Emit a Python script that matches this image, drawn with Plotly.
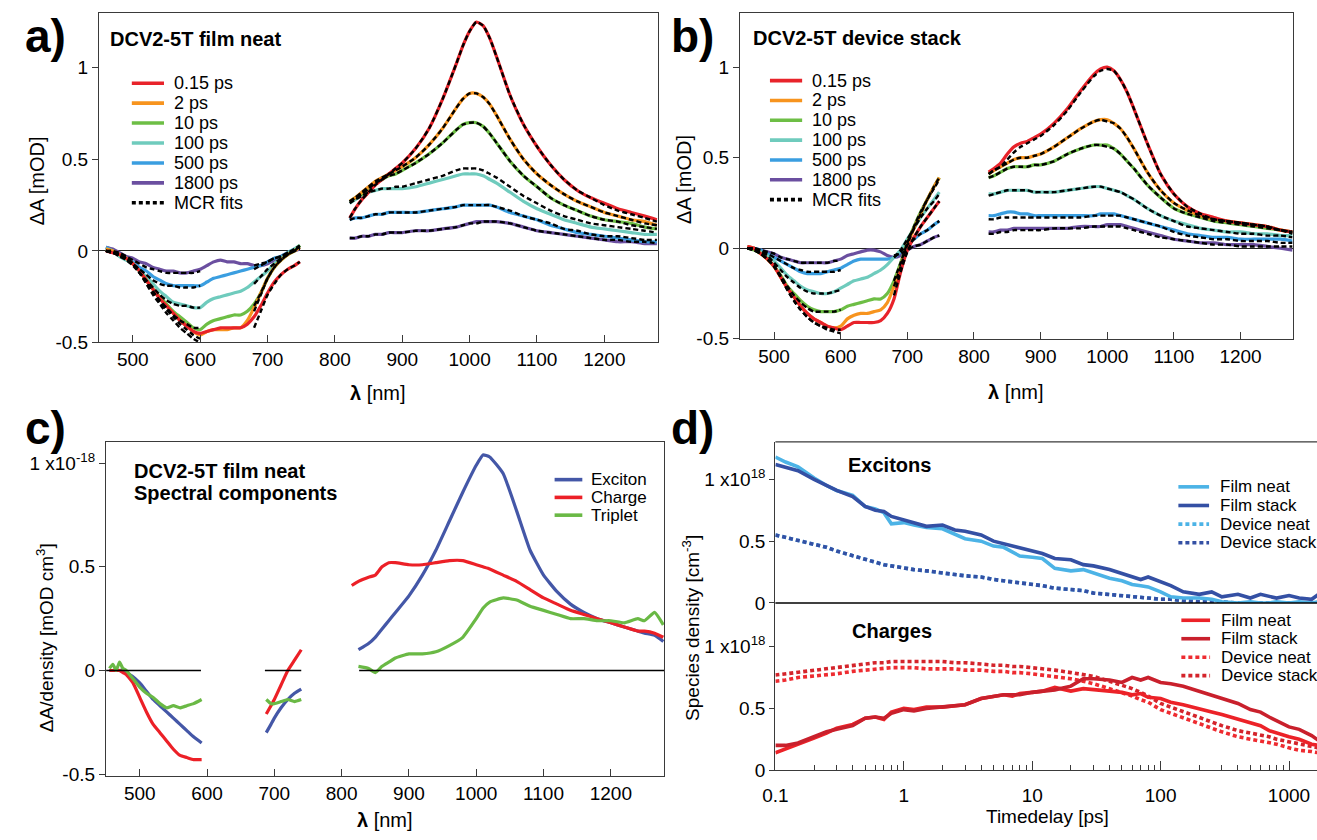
import plotly.graph_objects as go

W, H = 1317, 840
FONT = "Liberation Sans, Arial, sans-serif"

# ---------------- wavelength grids (nm) ----------------
WL_VIS = [460, 470, 480, 490, 500, 510, 520, 530, 540, 550, 560, 570, 580, 590, 600,
          610, 620, 630, 640, 650, 660, 670, 680, 690, 700, 710, 720, 730, 740, 748]
WL_NIR = [822, 830, 840, 850, 860, 870, 880, 890, 900, 920, 940, 960, 980, 990, 1000,
          1010, 1020, 1030, 1040, 1060, 1080, 1100, 1120, 1140, 1160, 1180, 1200, 1220,
          1240, 1260, 1278]

DELAYS = ["0.15 ps", "2 ps", "10 ps", "100 ps", "500 ps", "1800 ps"]
DELAY_COLORS = ["#e8232a", "#f7941e", "#6dbe45", "#6fcbbd", "#3a9ee0", "#6b4fa0"]
N = None

# ---------------- a) film neat : visible ----------------
A_VIS_015 = [0.00, -0.01, -0.02, -0.04, -0.07, -0.11, -0.16, -0.21, -0.26, -0.30, -0.34, -0.38, -0.41, -0.44, -0.45,
             -0.44, -0.43, -0.42, -0.42, -0.42, -0.42, -0.40, -0.36, -0.30, -0.23, -0.17, -0.13, -0.10, -0.08, -0.06]
A_VIS_2 = [0.01, 0.00, -0.02, -0.04, -0.07, -0.11, -0.16, -0.21, -0.26, -0.30, -0.34, -0.38, -0.41, -0.44, -0.46,
           -0.44, -0.43, -0.43, -0.43, -0.42, -0.42, -0.38, -0.31, -0.23, -0.15, -0.09, -0.05, -0.02, 0.00, 0.02]
A_VIS_10 = [0.01, 0.00, -0.02, -0.04, -0.07, -0.11, -0.16, -0.21, -0.25, -0.29, -0.33, -0.36, -0.39, -0.42, -0.43,
            -0.40, -0.38, -0.37, -0.36, -0.35, -0.35, -0.33, -0.29, -0.23, -0.15, -0.09, -0.05, -0.02, 0.00, 0.03]
A_VIS_100 = [0.01, 0.00, -0.03, -0.05, -0.07, -0.11, -0.14, -0.18, -0.22, -0.25, -0.28, -0.29, -0.30, -0.31, -0.31,
             -0.28, -0.26, -0.25, -0.24, -0.23, -0.22, -0.20, -0.17, -0.14, -0.11, -0.07, -0.04, -0.01, 0.01, 0.03]
A_VIS_500 = [0.02, 0.00, -0.02, -0.04, -0.06, -0.09, -0.11, -0.14, -0.16, -0.18, -0.19, -0.19, -0.19, -0.19, -0.19,
             -0.17, -0.15, -0.14, -0.13, -0.12, -0.11, -0.10, -0.09, -0.08, -0.06, -0.04, -0.03, -0.01, 0.01, 0.02]
A_VIS_1800 = [0.02, 0.01, -0.01, -0.03, -0.04, -0.06, -0.07, -0.09, -0.10, -0.11, -0.11, -0.12, -0.12, -0.11, -0.10,
              -0.08, -0.06, -0.05, -0.06, -0.06, -0.07, -0.07, -0.08, -0.08, -0.07, -0.05, -0.03, -0.01, 0.00, 0.01]

A_VIS_FIT_015 = [0.00, -0.01, -0.02, -0.04, -0.07, -0.12, -0.18, -0.24, -0.29, -0.34, -0.38, -0.42, -0.45, -0.48, -0.50,
                 N, N, N, N, N, N, N, -0.42, -0.33, -0.24, -0.18, -0.13, -0.10, -0.08, -0.06]
A_VIS_FIT_2 = [0.00, -0.01, -0.02, -0.04, -0.07, -0.12, -0.17, -0.23, -0.28, -0.32, -0.36, -0.40, -0.43, -0.46, -0.48,
               N, N, N, N, N, N, N, -0.33, -0.24, -0.15, -0.09, -0.05, -0.02, 0.00, 0.02]
A_VIS_FIT_10 = [0.00, -0.01, -0.02, -0.04, -0.07, -0.12, -0.17, -0.22, -0.27, -0.31, -0.35, -0.38, -0.40, -0.42, -0.42,
                N, N, N, N, N, N, N, -0.30, -0.23, -0.15, -0.09, -0.05, -0.02, 0.00, 0.03]
A_VIS_FIT_100 = [0.00, -0.01, -0.03, -0.05, -0.08, -0.12, -0.16, -0.20, -0.24, -0.27, -0.29, -0.30, -0.30, -0.31, -0.31,
                 N, N, N, N, N, N, N, -0.18, -0.14, -0.10, -0.07, -0.04, -0.02, 0.01, 0.03]
A_VIS_FIT_500 = [0.00, -0.01, -0.02, -0.04, -0.07, -0.10, -0.13, -0.16, -0.18, -0.19, -0.19, -0.20, -0.20, -0.20, -0.19,
                 N, N, N, N, N, N, N, -0.10, -0.08, -0.06, -0.04, -0.03, -0.01, 0.01, 0.02]
A_VIS_FIT_1800 = [0.00, 0.00, -0.01, -0.03, -0.05, -0.07, -0.09, -0.10, -0.11, -0.12, -0.12, -0.12, -0.12, -0.12, -0.11,
                  N, N, N, N, N, N, N, -0.08, -0.07, -0.06, -0.04, -0.03, -0.01, 0.00, 0.01]

# ---------------- a) film neat : near infrared ----------------
A_NIR_015 = [0.18, 0.23, 0.28, 0.32, 0.36, 0.39, 0.42, 0.45, 0.48, 0.56, 0.67, 0.83, 1.02, 1.12, 1.20, 1.25, 1.23,
             1.16, 1.06, 0.85, 0.69, 0.57, 0.47, 0.39, 0.33, 0.29, 0.26, 0.23, 0.21, 0.19, 0.17]
A_NIR_2 = [0.27, 0.29, 0.32, 0.35, 0.38, 0.40, 0.42, 0.44, 0.46, 0.51, 0.58, 0.67, 0.78, 0.83, 0.86, 0.86, 0.84,
           0.80, 0.74, 0.61, 0.50, 0.42, 0.36, 0.31, 0.27, 0.24, 0.21, 0.19, 0.17, 0.16, 0.14]
A_NIR_10 = [0.27, 0.29, 0.31, 0.34, 0.37, 0.39, 0.41, 0.42, 0.44, 0.48, 0.53, 0.59, 0.66, 0.69, 0.70, 0.70, 0.68,
            0.64, 0.59, 0.49, 0.41, 0.35, 0.29, 0.25, 0.22, 0.19, 0.17, 0.16, 0.15, 0.13, 0.12]
A_NIR_100 = [0.26, 0.28, 0.30, 0.32, 0.33, 0.34, 0.34, 0.34, 0.34, 0.35, 0.37, 0.39, 0.41, 0.42, 0.42, 0.42, 0.41,
             0.39, 0.37, 0.32, 0.27, 0.23, 0.20, 0.17, 0.15, 0.13, 0.12, 0.11, 0.10, 0.09, 0.09]
A_NIR_500 = [0.17, 0.18, 0.18, 0.19, 0.20, 0.20, 0.21, 0.21, 0.21, 0.21, 0.22, 0.23, 0.24, 0.25, 0.25, 0.25, 0.25,
             0.25, 0.24, 0.21, 0.19, 0.17, 0.14, 0.12, 0.10, 0.09, 0.08, 0.07, 0.06, 0.05, 0.05]
A_NIR_1800 = [0.07, 0.07, 0.08, 0.08, 0.09, 0.09, 0.10, 0.10, 0.10, 0.11, 0.11, 0.12, 0.13, 0.14, 0.15, 0.16, 0.16,
              0.16, 0.16, 0.15, 0.13, 0.11, 0.10, 0.09, 0.08, 0.07, 0.06, 0.05, 0.05, 0.04, 0.04]

A_NIR_FIT_015 = [0.18, 0.23, 0.28, 0.32, 0.36, 0.39, 0.42, 0.45, 0.48, 0.56, 0.67, 0.83, 1.02, 1.12, 1.20, 1.25, 1.23,
                 1.16, 1.06, 0.85, 0.69, 0.57, 0.47, 0.39, 0.33, 0.29, 0.25, 0.22, 0.20, 0.18, 0.16]
A_NIR_FIT_2 = [0.27, 0.29, 0.32, 0.35, 0.38, 0.40, 0.42, 0.44, 0.46, 0.51, 0.58, 0.67, 0.78, 0.83, 0.86, 0.86, 0.84,
               0.80, 0.74, 0.61, 0.50, 0.42, 0.36, 0.31, 0.27, 0.24, 0.21, 0.19, 0.17, 0.15, 0.14]
A_NIR_FIT_10 = [0.27, 0.29, 0.31, 0.34, 0.37, 0.39, 0.41, 0.42, 0.44, 0.48, 0.53, 0.59, 0.66, 0.69, 0.70, 0.70, 0.68,
                0.64, 0.59, 0.49, 0.41, 0.35, 0.29, 0.25, 0.22, 0.19, 0.17, 0.16, 0.14, 0.13, 0.12]
A_NIR_FIT_100 = [0.26, 0.28, 0.30, 0.32, 0.33, 0.34, 0.34, 0.35, 0.35, 0.37, 0.39, 0.41, 0.44, 0.45, 0.45, 0.45, 0.44,
                 0.42, 0.40, 0.35, 0.30, 0.26, 0.22, 0.19, 0.17, 0.15, 0.14, 0.13, 0.12, 0.11, 0.10]
A_NIR_FIT_500 = [0.17, 0.18, 0.18, 0.19, 0.20, 0.20, 0.21, 0.21, 0.21, 0.21, 0.22, 0.23, 0.24, 0.25, 0.25, 0.25, 0.25,
                 0.25, 0.24, 0.22, 0.19, 0.17, 0.15, 0.12, 0.11, 0.09, 0.08, 0.08, 0.07, 0.06, 0.06]
A_NIR_FIT_1800 = [0.07, 0.07, 0.08, 0.08, 0.09, 0.09, 0.10, 0.10, 0.10, 0.11, 0.11, 0.12, 0.13, 0.14, 0.15, 0.15, 0.16,
                  0.16, 0.16, 0.15, 0.13, 0.11, 0.10, 0.09, 0.08, 0.07, 0.06, 0.06, 0.05, 0.05, 0.04]

# ---------------- b) device stack : visible ----------------
B_VIS_015 = [0.01, 0.00, -0.03, -0.06, -0.10, -0.16, -0.22, -0.27, -0.32, -0.36, -0.39, -0.41, -0.43, -0.44, -0.45,
             -0.43, -0.41, -0.41, -0.41, -0.41, -0.40, -0.36, -0.28, -0.13, -0.01, 0.06, 0.12, 0.17, 0.22, 0.26]
B_VIS_2 = [0.01, 0.00, -0.03, -0.06, -0.10, -0.16, -0.22, -0.27, -0.32, -0.36, -0.39, -0.41, -0.43, -0.44, -0.43,
           -0.39, -0.37, -0.36, -0.36, -0.35, -0.34, -0.30, -0.21, -0.10, 0.02, 0.11, 0.19, 0.27, 0.34, 0.39]
B_VIS_10 = [0.00, -0.01, -0.03, -0.06, -0.10, -0.15, -0.21, -0.25, -0.29, -0.32, -0.34, -0.35, -0.35, -0.35, -0.34,
            -0.32, -0.31, -0.30, -0.29, -0.28, -0.28, -0.25, -0.18, -0.08, 0.03, 0.12, 0.20, 0.27, 0.34, 0.39]
B_VIS_100 = [0.00, 0.00, -0.02, -0.04, -0.07, -0.11, -0.15, -0.18, -0.21, -0.23, -0.24, -0.25, -0.25, -0.24, -0.22,
             -0.20, -0.18, -0.17, -0.16, -0.14, -0.12, -0.09, -0.05, -0.01, 0.05, 0.11, 0.17, 0.22, 0.27, 0.31]
B_VIS_500 = [0.01, 0.00, -0.01, -0.03, -0.05, -0.07, -0.09, -0.11, -0.13, -0.14, -0.14, -0.14, -0.13, -0.12, -0.11,
             -0.09, -0.07, -0.06, -0.06, -0.06, -0.06, -0.06, -0.05, -0.02, 0.02, 0.05, 0.08, 0.10, 0.13, 0.15]
B_VIS_1800 = [0.00, 0.00, -0.01, -0.02, -0.03, -0.05, -0.06, -0.07, -0.08, -0.08, -0.08, -0.08, -0.08, -0.07, -0.06,
              -0.04, -0.03, -0.02, -0.01, -0.01, -0.02, -0.04, -0.05, -0.04, -0.01, 0.01, 0.02, 0.04, 0.06, 0.07]

B_VIS_FIT_015 = [0.00, -0.01, -0.03, -0.06, -0.10, -0.16, -0.23, -0.29, -0.34, -0.38, -0.41, -0.43, -0.45, -0.46, -0.47,
                 N, N, N, N, N, N, N, -0.26, -0.13, -0.02, 0.06, 0.12, 0.17, 0.22, 0.26]
B_VIS_FIT_2 = [0.00, -0.01, -0.03, -0.06, -0.10, -0.16, -0.23, -0.29, -0.34, -0.38, -0.41, -0.43, -0.44, -0.45, -0.45,
               N, N, N, N, N, N, N, -0.21, -0.10, 0.02, 0.11, 0.19, 0.27, 0.34, 0.39]
B_VIS_FIT_10 = [0.00, -0.01, -0.03, -0.06, -0.10, -0.15, -0.21, -0.26, -0.30, -0.33, -0.35, -0.35, -0.35, -0.35, -0.34,
                N, N, N, N, N, N, N, -0.18, -0.08, 0.03, 0.12, 0.20, 0.27, 0.33, 0.38]
B_VIS_FIT_100 = [0.00, 0.00, -0.02, -0.04, -0.08, -0.12, -0.16, -0.19, -0.22, -0.24, -0.25, -0.25, -0.25, -0.24, -0.23,
                 N, N, N, N, N, N, N, -0.05, -0.01, 0.05, 0.11, 0.17, 0.22, 0.26, 0.30]
B_VIS_FIT_500 = [0.00, 0.00, -0.01, -0.03, -0.05, -0.07, -0.09, -0.11, -0.12, -0.13, -0.13, -0.13, -0.13, -0.13, -0.12,
                 N, N, N, N, N, N, N, -0.05, -0.02, 0.02, 0.05, 0.08, 0.10, 0.13, 0.15]
B_VIS_FIT_1800 = [0.00, 0.00, -0.01, -0.02, -0.03, -0.05, -0.06, -0.07, -0.08, -0.08, -0.08, -0.08, -0.08, -0.07, -0.07,
                  N, N, N, N, N, N, N, -0.04, -0.03, -0.01, 0.01, 0.02, 0.04, 0.06, 0.07]

# ---------------- b) device stack : near infrared ----------------
B_NIR_015 = [0.42, 0.44, 0.47, 0.52, 0.56, 0.58, 0.59, 0.61, 0.63, 0.69, 0.77, 0.87, 0.96, 0.99, 1.00, 0.98, 0.93,
             0.86, 0.77, 0.58, 0.41, 0.30, 0.23, 0.19, 0.17, 0.15, 0.14, 0.13, 0.12, 0.10, 0.09]
B_NIR_2 = [0.41, 0.43, 0.45, 0.47, 0.49, 0.50, 0.50, 0.51, 0.52, 0.56, 0.61, 0.66, 0.70, 0.71, 0.71, 0.69, 0.66,
           0.61, 0.55, 0.42, 0.32, 0.25, 0.21, 0.18, 0.16, 0.15, 0.14, 0.13, 0.12, 0.10, 0.09]
B_NIR_10 = [0.39, 0.40, 0.42, 0.44, 0.45, 0.45, 0.45, 0.46, 0.46, 0.48, 0.52, 0.55, 0.57, 0.57, 0.57, 0.55, 0.52,
            0.48, 0.44, 0.35, 0.28, 0.22, 0.19, 0.17, 0.15, 0.14, 0.13, 0.12, 0.11, 0.10, 0.09]
B_NIR_100 = [0.30, 0.30, 0.31, 0.32, 0.32, 0.32, 0.32, 0.31, 0.31, 0.31, 0.32, 0.33, 0.34, 0.34, 0.33, 0.32, 0.31,
             0.29, 0.27, 0.22, 0.18, 0.15, 0.13, 0.11, 0.10, 0.09, 0.09, 0.08, 0.08, 0.07, 0.07]
B_NIR_500 = [0.18, 0.18, 0.19, 0.20, 0.20, 0.19, 0.19, 0.18, 0.18, 0.18, 0.18, 0.18, 0.18, 0.19, 0.19, 0.19, 0.18,
             0.17, 0.16, 0.14, 0.12, 0.10, 0.08, 0.07, 0.06, 0.06, 0.05, 0.05, 0.05, 0.05, 0.04]
B_NIR_1800 = [0.09, 0.09, 0.10, 0.10, 0.11, 0.11, 0.11, 0.11, 0.11, 0.11, 0.11, 0.12, 0.12, 0.12, 0.13, 0.13, 0.13,
              0.12, 0.11, 0.09, 0.07, 0.05, 0.04, 0.03, 0.03, 0.02, 0.02, 0.02, 0.01, 0.00, -0.01]

B_NIR_FIT_015 = [0.41, 0.43, 0.45, 0.49, 0.53, 0.56, 0.58, 0.60, 0.62, 0.68, 0.76, 0.86, 0.95, 0.98, 0.99, 0.98, 0.93,
                 0.86, 0.77, 0.58, 0.41, 0.30, 0.23, 0.19, 0.16, 0.15, 0.14, 0.13, 0.12, 0.10, 0.09]
B_NIR_FIT_2 = [0.41, 0.43, 0.45, 0.47, 0.49, 0.50, 0.50, 0.51, 0.52, 0.56, 0.61, 0.66, 0.70, 0.71, 0.70, 0.69, 0.66,
               0.61, 0.55, 0.42, 0.32, 0.25, 0.21, 0.18, 0.16, 0.15, 0.14, 0.13, 0.12, 0.10, 0.09]
B_NIR_FIT_10 = [0.39, 0.40, 0.42, 0.44, 0.45, 0.45, 0.45, 0.46, 0.46, 0.48, 0.52, 0.55, 0.57, 0.57, 0.56, 0.55, 0.52,
                0.48, 0.44, 0.35, 0.28, 0.22, 0.19, 0.17, 0.15, 0.14, 0.13, 0.12, 0.11, 0.10, 0.08]
B_NIR_FIT_100 = [0.29, 0.30, 0.31, 0.32, 0.32, 0.32, 0.32, 0.31, 0.31, 0.31, 0.32, 0.33, 0.34, 0.34, 0.33, 0.32, 0.31,
                 0.29, 0.27, 0.22, 0.18, 0.15, 0.12, 0.11, 0.10, 0.09, 0.08, 0.08, 0.07, 0.07, 0.06]
B_NIR_FIT_500 = [0.16, 0.16, 0.17, 0.17, 0.17, 0.17, 0.17, 0.17, 0.17, 0.17, 0.17, 0.17, 0.18, 0.18, 0.18, 0.18, 0.18,
                 0.17, 0.16, 0.14, 0.12, 0.09, 0.07, 0.06, 0.05, 0.05, 0.04, 0.04, 0.04, 0.03, 0.03]
B_NIR_FIT_1800 = [0.08, 0.08, 0.09, 0.09, 0.10, 0.10, 0.10, 0.10, 0.10, 0.11, 0.11, 0.11, 0.12, 0.12, 0.12, 0.12, 0.12,
                  0.11, 0.10, 0.08, 0.06, 0.05, 0.04, 0.03, 0.02, 0.02, 0.01, 0.01, 0.01, 0.01, 0.01]

# ---------------- c) spectral components (units of 1e-18 mOD cm^3) ----------------
WL_C1 = [455, 460, 465, 470, 475, 480, 490, 500, 510, 520, 530, 540, 550, 560, 570, 580, 592]
WL_C2 = [688, 695, 700, 710, 720, 730, 740]
WL_C3 = [815, 825, 840, 850, 860, 870, 880, 900, 920, 940, 960, 980, 1000, 1010, 1020, 1040, 1060, 1080,
         1100, 1120, 1140, 1160, 1180, 1200, 1220, 1240, 1250, 1265, 1278]

EXCITON_1 = [0.00, 0.00, 0.00, 0.00, 0.00, -0.01, -0.03, -0.06, -0.10, -0.14, -0.17, -0.20, -0.23, -0.26, -0.29, -0.32, -0.35]
CHARGE_1 = [0.00, 0.00, 0.00, 0.00, -0.01, -0.02, -0.06, -0.13, -0.20, -0.26, -0.30, -0.34, -0.38, -0.41, -0.42, -0.43, -0.43]
TRIPLET_1 = [0.01, 0.03, 0.00, 0.04, 0.01, 0.00, -0.04, -0.08, -0.11, -0.13, -0.16, -0.18, -0.17, -0.18, -0.17, -0.16, -0.14]

EXCITON_2 = [-0.30, -0.26, -0.23, -0.18, -0.14, -0.11, -0.09]
CHARGE_2 = [-0.21, -0.17, -0.14, -0.07, 0.00, 0.05, 0.10]
TRIPLET_2 = [-0.14, -0.16, -0.16, -0.15, -0.14, -0.15, -0.14]

EXCITON_3 = [N, 0.10, 0.13, 0.16, 0.20, 0.24, 0.28, 0.36, 0.46, 0.58, 0.72, 0.86, 0.99, 1.04, 1.03, 0.95, 0.77, 0.58,
             0.46, 0.38, 0.32, 0.28, 0.25, 0.23, 0.21, 0.19, 0.18, 0.17, 0.14]
CHARGE_3 = [0.41, 0.43, 0.45, 0.46, 0.50, 0.52, 0.52, 0.51, 0.51, 0.52, 0.53, 0.53, 0.51, 0.50, 0.49, 0.46, 0.43, 0.39,
            0.35, 0.32, 0.29, 0.27, 0.25, 0.23, 0.21, 0.19, 0.19, 0.18, 0.16]
TRIPLET_3 = [N, 0.02, 0.01, -0.01, 0.02, 0.04, 0.06, 0.08, 0.08, 0.09, 0.12, 0.16, 0.25, 0.30, 0.33, 0.35, 0.34, 0.31,
             0.29, 0.27, 0.25, 0.25, 0.24, 0.24, 0.23, 0.25, 0.24, 0.28, 0.22]

# ---------------- d) species densities (units of 1e18 cm^-3) ----------------
T_PS = [0.1, 0.12, 0.15, 0.2, 0.25, 0.3, 0.4, 0.5, 0.6, 0.7, 0.8, 1, 1.2, 1.5, 2, 2.5, 3, 4, 5, 6, 7, 8, 10, 12,
        15, 20, 25, 30, 40, 50, 60, 70, 80, 100, 120, 150, 200, 250, 300, 400, 500, 600, 700, 800, 1000, 1200,
        1500, 1700]

EXC_FILM_NEAT = [1.18, 1.14, 1.10, 1.01, 0.95, 0.91, 0.87, 0.78, 0.76, 0.73, 0.64, 0.65, 0.63, 0.61, 0.60, 0.56,
                 0.52, 0.50, 0.46, 0.45, 0.41, 0.38, 0.37, 0.36, 0.28, 0.26, 0.27, 0.24, 0.20, 0.18, 0.15, 0.14,
                 0.13, 0.09, 0.05, 0.04, 0.04, 0.03, 0.01, 0.00, 0.01, 0.00, 0.00, 0.01, 0.00, 0.01, 0.00, 0.01]
EXC_FILM_STACK = [1.12, 1.10, 1.07, 1.00, 0.95, 0.91, 0.86, 0.78, 0.75, 0.74, 0.70, 0.67, 0.65, 0.62, 0.63, 0.59,
                  0.58, 0.55, 0.50, 0.48, 0.46, 0.45, 0.42, 0.40, 0.36, 0.35, 0.31, 0.30, 0.27, 0.24, 0.21, 0.19,
                  0.21, 0.17, 0.14, 0.09, 0.07, 0.09, 0.05, 0.07, 0.04, 0.07, 0.05, 0.04, 0.06, 0.04, 0.03, 0.07]
EXC_DEVICE_NEAT = [0.55, 0.53, 0.51, 0.48, 0.45, 0.42, 0.38, 0.35, 0.33, 0.31, 0.30, 0.28, 0.27, 0.26, 0.24, 0.23,
                   0.22, 0.21, 0.19, 0.18, 0.17, 0.16, 0.15, 0.14, 0.12, 0.11, 0.10, 0.08, 0.07, 0.06, 0.05, 0.05,
                   0.04, 0.03, 0.03, 0.02, 0.01, 0.01, 0.00, 0.00, 0.00, 0.00, 0.00, 0.00, 0.00, 0.00, 0.00, 0.00]
EXC_DEVICE_STACK = [0.55, 0.53, 0.51, 0.48, 0.45, 0.42, 0.38, 0.35, 0.33, 0.31, 0.30, 0.28, 0.27, 0.26, 0.24, 0.23,
                    0.22, 0.21, 0.19, 0.18, 0.17, 0.16, 0.15, 0.14, 0.12, 0.11, 0.10, 0.08, 0.07, 0.06, 0.05, 0.05,
                    0.04, 0.03, 0.03, 0.02, 0.01, 0.01, 0.01, 0.00, 0.00, 0.00, 0.00, 0.00, 0.00, 0.00, 0.00, 0.00]

CHG_FILM_NEAT = [0.14, 0.17, 0.21, 0.26, 0.30, 0.34, 0.37, 0.42, 0.43, 0.41, 0.47, 0.50, 0.49, 0.51, 0.51, 0.52,
                 0.53, 0.58, 0.60, 0.61, 0.60, 0.62, 0.63, 0.64, 0.67, 0.64, 0.66, 0.65, 0.64, 0.63, 0.61, 0.62,
                 0.59, 0.58, 0.55, 0.53, 0.50, 0.47, 0.45, 0.41, 0.38, 0.36, 0.32, 0.30, 0.27, 0.25, 0.21, 0.20]
CHG_FILM_STACK = [0.20, 0.20, 0.22, 0.27, 0.31, 0.33, 0.36, 0.42, 0.43, 0.42, 0.46, 0.49, 0.48, 0.50, 0.51, 0.52,
                  0.53, 0.58, 0.60, 0.61, 0.61, 0.61, 0.63, 0.64, 0.65, 0.68, 0.74, 0.74, 0.73, 0.71, 0.75, 0.73,
                  0.75, 0.71, 0.70, 0.68, 0.64, 0.61, 0.58, 0.54, 0.49, 0.47, 0.43, 0.40, 0.35, 0.33, 0.28, 0.24]
CHG_DEVICE_NEAT = [0.72, 0.73, 0.75, 0.76, 0.77, 0.78, 0.80, 0.81, 0.82, 0.82, 0.83, 0.83, 0.83, 0.82, 0.82, 0.82,
                   0.81, 0.81, 0.80, 0.80, 0.79, 0.79, 0.78, 0.77, 0.76, 0.74, 0.72, 0.70, 0.66, 0.63, 0.60, 0.57,
                   0.55, 0.49, 0.46, 0.42, 0.38, 0.34, 0.31, 0.27, 0.25, 0.23, 0.22, 0.21, 0.18, 0.16, 0.15, 0.14]
CHG_DEVICE_STACK = [0.77, 0.78, 0.79, 0.81, 0.82, 0.83, 0.85, 0.86, 0.87, 0.87, 0.88, 0.88, 0.88, 0.88, 0.88, 0.87,
                    0.87, 0.86, 0.85, 0.85, 0.84, 0.84, 0.83, 0.82, 0.81, 0.79, 0.77, 0.76, 0.72, 0.69, 0.66, 0.63,
                    0.60, 0.54, 0.51, 0.47, 0.43, 0.39, 0.36, 0.32, 0.30, 0.28, 0.27, 0.25, 0.23, 0.21, 0.19, 0.18]

# ---------------------------------------------------------------
def fx(p):
    return p / W


def fy(p):
    return 1 - p / H


fig = go.Figure()

A_VIS = [A_VIS_015, A_VIS_2, A_VIS_10, A_VIS_100, A_VIS_500, A_VIS_1800]
A_VIS_FIT = [A_VIS_FIT_015, A_VIS_FIT_2, A_VIS_FIT_10, A_VIS_FIT_100, A_VIS_FIT_500, A_VIS_FIT_1800]
A_NIR = [A_NIR_015, A_NIR_2, A_NIR_10, A_NIR_100, A_NIR_500, A_NIR_1800]
A_NIR_FIT = [A_NIR_FIT_015, A_NIR_FIT_2, A_NIR_FIT_10, A_NIR_FIT_100, A_NIR_FIT_500, A_NIR_FIT_1800]
B_VIS = [B_VIS_015, B_VIS_2, B_VIS_10, B_VIS_100, B_VIS_500, B_VIS_1800]
B_VIS_FIT = [B_VIS_FIT_015, B_VIS_FIT_2, B_VIS_FIT_10, B_VIS_FIT_100, B_VIS_FIT_500, B_VIS_FIT_1800]
B_NIR = [B_NIR_015, B_NIR_2, B_NIR_10, B_NIR_100, B_NIR_500, B_NIR_1800]
B_NIR_FIT = [B_NIR_FIT_015, B_NIR_FIT_2, B_NIR_FIT_10, B_NIR_FIT_100, B_NIR_FIT_500, B_NIR_FIT_1800]


def add_spectra(vis, nir, vis_fit, nir_fit, xa, ya):
    # measured spectra, long delays underneath
    for i in reversed(range(len(DELAYS))):
        for wl, ys in ((WL_VIS, vis[i]), (WL_NIR, nir[i])):
            fig.add_trace(go.Scatter(x=wl, y=ys, mode="lines", xaxis=xa, yaxis=ya,
                                     line=dict(color=DELAY_COLORS[i], width=3.2, shape="spline", smoothing=0.6),
                                     showlegend=False, hoverinfo="skip"))
    # MCR fits on top
    for i in range(len(DELAYS)):
        for wl, ys in ((WL_VIS, vis_fit[i]), (WL_NIR, nir_fit[i])):
            fig.add_trace(go.Scatter(x=wl, y=ys, mode="lines", xaxis=xa, yaxis=ya, connectgaps=False,
                                     line=dict(color="black", width=2.4, dash="5px,3px", shape="spline",
                                               smoothing=0.6),
                                     showlegend=False, hoverinfo="skip"))


add_spectra(A_VIS, A_NIR, A_VIS_FIT, A_NIR_FIT, "x", "y")
add_spectra(B_VIS, B_NIR, B_VIS_FIT, B_NIR_FIT, "x2", "y2")

# panel c components
C_NAMES = ["Exciton", "Charge", "Triplet"]
C_COLORS = ["#4457a7", "#ec2027", "#6ab945"]
C_SETS = [(EXCITON_1, EXCITON_2, EXCITON_3), (CHARGE_1, CHARGE_2, CHARGE_3), (TRIPLET_1, TRIPLET_2, TRIPLET_3)]
for k in range(3):
    for wl, ys in zip((WL_C1, WL_C2, WL_C3), C_SETS[k]):
        fig.add_trace(go.Scatter(x=wl, y=ys, mode="lines", xaxis="x3", yaxis="y3",
                                 line=dict(color=C_COLORS[k], width=3.2, shape="spline", smoothing=0.4),
                                 showlegend=False, hoverinfo="skip"))

# panel d kinetics
EXC_SERIES = [EXC_DEVICE_NEAT, EXC_DEVICE_STACK, EXC_FILM_NEAT, EXC_FILM_STACK]
EXC_COLORS = ["#4cb3e6", "#3450a4", "#4cb3e6", "#3450a4"]
CHG_SERIES = [CHG_DEVICE_NEAT, CHG_DEVICE_STACK, CHG_FILM_NEAT, CHG_FILM_STACK]
CHG_COLORS = ["#ee2b30", "#d4242b", "#ec2228", "#c9202c"]
D_DASH = ["4px,3px", "4px,3px", "solid", "solid"]
for ys, col, dsh in zip(EXC_SERIES, EXC_COLORS, D_DASH):
    fig.add_trace(go.Scatter(x=T_PS, y=ys, mode="lines", xaxis="x4", yaxis="y4",
                             line=dict(color=col, width=3.6, dash=dsh),
                             showlegend=False, hoverinfo="skip"))
for ys, col, dsh in zip(CHG_SERIES, CHG_COLORS, D_DASH):
    fig.add_trace(go.Scatter(x=T_PS, y=ys, mode="lines", xaxis="x4", yaxis="y5",
                             line=dict(color=col, width=3.6, dash=dsh),
                             showlegend=False, hoverinfo="skip"))

# ---------------- axes ----------------
AX_COL = "#3a3a3a"
TICK_FONT = dict(family=FONT, size=19, color="black")
WL_TICKS = [500, 600, 700, 800, 900, 1000, 1100, 1200]


def wl_axis(left, right, anchor, rng):
    return dict(domain=[fx(left), fx(right)], range=rng, anchor=anchor,
                showline=True, linecolor=AX_COL, linewidth=1.3, mirror=True,
                ticks="inside", ticklen=7, tickwidth=1.2, tickcolor=AX_COL,
                tickvals=WL_TICKS, ticktext=[str(v) for v in WL_TICKS],
                showgrid=False, zeroline=False, tickfont=TICK_FONT)


def val_axis(top, bottom, rng, anchor, vals, texts, zero=False):
    return dict(domain=[fy(bottom), fy(top)], range=rng, anchor=anchor,
                showline=True, linecolor=AX_COL, linewidth=1.3, mirror=True,
                ticks="outside", ticklen=6, tickwidth=1.2, tickcolor=AX_COL,
                tickvals=vals, ticktext=texts, showgrid=False,
                zeroline=zero, zerolinecolor="#222222", zerolinewidth=1.3, tickfont=TICK_FONT)


minor_t = []
for dec in (0.1, 1, 10, 100, 1000):
    for m in range(2, 10):
        minor_t.append(round(dec * m, 6))

fig.update_layout(
    width=W, height=H, autosize=False,
    margin=dict(l=0, r=0, t=0, b=0),
    paper_bgcolor="white", plot_bgcolor="white",
    font=dict(family=FONT, color="black"),
    xaxis=wl_axis(87, 651, "y", [450, 1279]),
    yaxis=val_axis(13, 347, [-0.5, 1.30], "x", [-0.5, 0, 0.5, 1], ["-0.5", "0", "0.5", "1"], zero=True),
    xaxis2=wl_axis(734.3, 1292.3, "y2", [449, 1278]),
    yaxis2=val_axis(13, 343.3, [-0.5, 1.30], "x2", [-0.5, 0, 0.5, 1], ["-0.5", "0", "0.5", "1"], zero=True),
    xaxis3=wl_axis(94, 657.5, "y3", [450, 1279]),
    yaxis3=val_axis(447.7, 786.7, [-0.511, 1.103], "x3", [-0.5, 0, 0.5, 1],
                    ["-0.5", "0", "0.5", "1 x10<sup>-18</sup>"]),
    xaxis4=dict(domain=[fx(770), 1.0], type="log", range=[-1, 3.218], anchor="y5",
                showline=True, linecolor=AX_COL, linewidth=1.3, mirror=False,
                ticks="inside", ticklen=9, tickwidth=1.2, tickcolor=AX_COL,
                tickvals=[0.1, 1, 10, 100, 1000], ticktext=["0.1", "1", "10", "100", "1000"],
                minor=dict(ticks="inside", ticklen=5, tickwidth=1.1, tickcolor=AX_COL,
                           tickmode="array", tickvals=minor_t, showgrid=False),
                showgrid=False, zeroline=False, tickfont=TICK_FONT, ticklabelstandoff=8),
    yaxis4=dict(domain=[fy(611), fy(447.7)], range=[0, 1.303], anchor="x4",
                showline=True, linecolor=AX_COL, linewidth=1.3,
                ticks="outside", ticklen=5, tickwidth=1.2, tickcolor=AX_COL,
                tickvals=[0, 0.5, 1], ticktext=["0", "0.5", "1 x10<sup>18</sup>"],
                showgrid=False, zeroline=False, tickfont=TICK_FONT),
    yaxis5=dict(domain=[fy(780.3), fy(611)], range=[0, 1.354], anchor="x4",
                showline=True, linecolor=AX_COL, linewidth=1.3,
                ticks="outside", ticklen=5, tickwidth=1.2, tickcolor=AX_COL,
                tickvals=[0, 0.5, 1], ticktext=["0", "0.5", "1 x10<sup>18</sup>"],
                showgrid=False, zeroline=False, tickfont=TICK_FONT),
)

shapes = []
# zero baselines in panel c, only where data exist
for x0, x1 in ((450, 591), (686, 740), (826, 1279)):
    shapes.append(dict(type="line", xref="x3", yref="y3", x0=x0, x1=x1, y0=0, y1=0,
                       line=dict(color="black", width=1.3)))
# panel d: top border and the divider between the two species panels
shapes.append(dict(type="line", xref="x4 domain", yref="y4 domain", x0=0, x1=1, y0=1, y1=1,
                   line=dict(color=AX_COL, width=1.3)))
shapes.append(dict(type="line", xref="x4 domain", yref="y5 domain", x0=0, x1=1, y0=1, y1=1,
                   line=dict(color="black", width=1.3)))

annotations = []


def text(t, x, y, size, bold=False, xanchor="left", yanchor="middle", angle=0):
    if bold:
        t = "<b>" + t + "</b>"
    annotations.append(dict(text=t, x=fx(x), y=fy(y), xref="paper", yref="paper", showarrow=False,
                            xanchor=xanchor, yanchor=yanchor, textangle=angle,
                            font=dict(family=FONT, size=size, color="black")))


def legend(rows, x0, x1, xt, y0, dy, size, width=3.6):
    for i, (label, color, dash) in enumerate(rows):
        yy = y0 + dy * i
        shapes.append(dict(type="line", xref="paper", yref="paper", x0=fx(x0), x1=fx(x1),
                           y0=fy(yy), y1=fy(yy), line=dict(color=color, width=width, dash=dash)))
        text(label, xt, yy, size)


# panel letters
text("a)", 10, 36, 46, bold=True)
text("b)", 663, 36, 46, bold=True)
text("c)", 10, 434, 46, bold=True)
text("d)", 663, 434, 46, bold=True)

# panel titles
text("DCV2-5T film neat", 96, 40, 20, bold=True)
text("DCV2-5T device stack", 745, 39, 20, bold=True)
text("DCV2-5T film neat", 120, 477, 20, bold=True)
text("Spectral components", 120, 500, 20, bold=True)
text("Excitons", 841, 471, 20, bold=True)
text("Charges", 845, 639, 20, bold=True)

# axis titles
text("<b>λ</b> [nm]", 369, 398, 20, xanchor="center")
text("<b>λ</b> [nm]", 1013, 397, 20, xanchor="center")
text("<b>λ</b> [nm]", 376, 831, 20, xanchor="center")
text("Timedelay [ps]", 1045, 827, 19, xanchor="center")
text("ΔA [mOD]", 24, 183, 20, xanchor="center", angle=-90)
text("ΔA [mOD]", 677, 182, 20, xanchor="center", angle=-90)
text("ΔA/density [mOD cm<sup>3</sup>]", 32, 646, 19, xanchor="center", angle=-90)
text("Species density [cm<sup>-3</sup>]", 684, 636, 19, xanchor="center", angle=-90)

# legends
ab_rows = [(d, c, "solid") for d, c in zip(DELAYS, DELAY_COLORS)] + [("MCR fits", "black", "4px,3px")]
legend(ab_rows, 120, 152.5, 161, 84.3, 20.2, 18)
legend(ab_rows, 764.5, 797, 805, 81.7, 20.1, 18)
legend([(n, c, "solid") for n, c in zip(C_NAMES, C_COLORS)], 547, 575, 582, 486, 18, 17)
legend([("Film neat", "#4cb3e6", "solid"), ("Film stack", "#3450a4", "solid"),
        ("Device neat", "#4cb3e6", "4px,3px"), ("Device stack", "#3450a4", "4px,3px")],
       1177, 1208, 1217, 493.3, 18.9, 17)
legend([("Film neat", "#ec2228", "solid"), ("Film stack", "#c9202c", "solid"),
        ("Device neat", "#ee2b30", "4px,3px"), ("Device stack", "#d4242b", "4px,3px")],
       1180, 1209, 1218, 628.5, 18.7, 17)

fig.update_layout(shapes=shapes, annotations=annotations)
fig.write_html("out.html")
